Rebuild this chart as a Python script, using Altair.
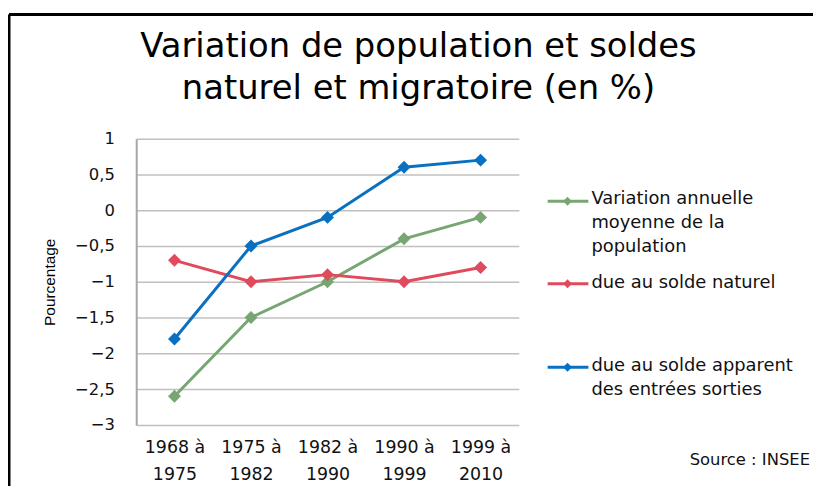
import altair as alt
import pandas as pd

periods = ["1968 à 1975", "1975 à 1982", "1982 à 1990", "1990 à 1999", "1999 à 2010"]
series_names = [
    "Variation annuelle moyenne de la population",
    "due au solde naturel",
    "due au solde apparent des entrées sorties",
]
variation = [-2.6, -1.5, -1.0, -0.4, -0.1]
naturel = [-0.7, -1.0, -0.9, -1.0, -0.8]
apparent = [-1.8, -0.5, -0.1, 0.6, 0.7]
colors = ["#77A672", "#E04A5C", "#0A70C0"]
title_lines = ["Variation de population et soldes", "naturel et migratoire (en %)"]
y_ticks = [-3, -2.5, -2, -1.5, -1, -0.5, 0, 0.5, 1]

rows = []
for name, vals in zip(series_names, [variation, naturel, apparent]):
    for p, v in zip(periods, vals):
        rows.append({"period": p, "series": name, "value": v})
df = pd.DataFrame(rows)

FONT = "DejaVu Sans"

x_enc = alt.X(
    "period:N",
    sort=periods,
    scale=alt.Scale(type="point", padding=0.5),
    axis=alt.Axis(
        title=None,
        labelAngle=0,
        labelExpr="[substring(datum.label, 0, 6), substring(datum.label, 7)]",
        labelLineHeight=27,
        labelFontSize=17.5,
        labelFont=FONT,
        labelColor="#111111",
        labelPadding=14,
        ticks=False,
        domain=False,
        grid=False,
    ),
)
y_enc = alt.Y(
    "value:Q",
    scale=alt.Scale(domain=[-3, 1], nice=False, zero=False),
    axis=alt.Axis(
        title="Pourcentage",
        titleFont="Liberation Sans",
        titleFontSize=15.5,
        titleFontWeight="normal",
        titleColor="#000000",
        titleX=-87,
        titleY=144,
        titleAngle=-90,
        titleAlign="center",
        titleBaseline="middle",
        values=y_ticks,
        labelExpr="replace(format(datum.value, '~g'), '.', ',')",
        labelFontSize=16.5,
        labelFont=FONT,
        labelColor="#111111",
        labelPadding=22,
        ticks=False,
        domainColor="#a6a6a6",
        domainWidth=2,
        gridColor="#c0c0c0",
        gridWidth=1.5,
    ),
)
color_enc = alt.Color(
    "series:N",
    scale=alt.Scale(domain=series_names, range=colors),
    legend=None,
)

lines = alt.Chart(df).mark_line(strokeWidth=3).encode(x=x_enc, y=y_enc, color=color_enc)
points = alt.Chart(df).mark_point(shape="diamond", filled=True, size=170, opacity=1).encode(
    x=x_enc, y=y_enc, color=color_enc
)

base = alt.Chart(pd.DataFrame({"a": [0]}))

# title as text marks
title_layers = [
    base.mark_text(
        align="center", baseline="alphabetic", fontSize=34, font=FONT, color="#000000"
    ).encode(x=alt.value(284), y=alt.value(yy), text=alt.value(t))
    for t, yy in zip(title_lines, [-82, -40])
]

# manual legend
legend_rows = [63, 146, 230]
legend_text_y = [61, 145, 229]
legend_labels = [
    ["Variation annuelle", "moyenne de la", "population"],
    ["due au solde naturel"],
    ["due au solde apparent", "des entrées sorties"],
]
legend_layers = []
for c, yy, ty, lab in zip(colors, legend_rows, legend_text_y, legend_labels):
    legend_layers.append(
        base.mark_rule(color=c, strokeWidth=3).encode(
            x=alt.value(414), x2=alt.value(455), y=alt.value(yy)
        )
    )
    legend_layers.append(
        base.mark_point(shape="diamond", filled=True, size=80, color=c, opacity=1).encode(
            x=alt.value(434), y=alt.value(yy)
        )
    )
    legend_layers.append(
        base.mark_text(
            align="left", baseline="middle", fontSize=18, font=FONT, lineHeight=24, color="#111111"
        ).encode(x=alt.value(458), y=alt.value(ty), text=alt.value(lab))
    )

source = base.mark_text(align="right", baseline="middle", fontSize=16.5, font=FONT, color="#111111").encode(
    x=alt.value(678), y=alt.value(323), text=alt.value("Source : INSEE")
)

frame_top = base.mark_rule(color="#000000", strokeWidth=3).encode(
    x=alt.value(-128), x2=alt.value(700), y=alt.value(-125)
)
frame_left = base.mark_rule(color="#000000", strokeWidth=3).encode(
    x=alt.value(-128), y=alt.value(-125), y2=alt.value(360)
)

chart = (
    alt.layer(lines, points, *title_layers, *legend_layers, source, frame_top, frame_left)
    .properties(
        width=385,
        height=288,
        autosize=alt.AutoSizeParams(type="none"),
        padding={"left": 129, "top": 130, "right": 296, "bottom": 60},
    )
    .configure_view(stroke=None, clip=False)
)

chart.save("out.html", embed_options={"renderer": "svg", "actions": False})
